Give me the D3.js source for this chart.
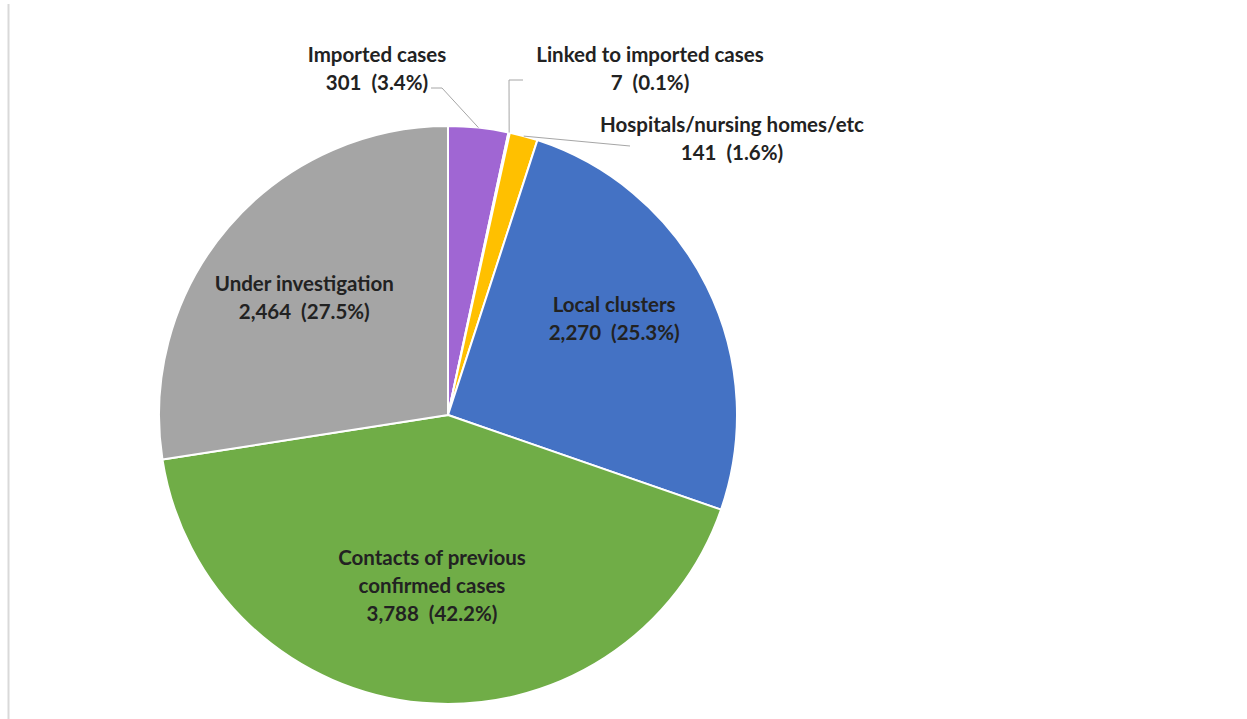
<!DOCTYPE html>
<html>
<head>
<meta charset="utf-8">
<script src="https://cdn.jsdelivr.net/npm/d3@7"></script>
<style>
  html, body { margin: 0; padding: 0; background: #fff; }
  svg { display: block; }
  text { font-family: Lato, "Open Sans", sans-serif; font-weight: bold; fill: #222; }
</style>
</head>
<body>
<svg id="chart" width="1247" height="719"></svg>
<script>
// data
const categories = ["Imported cases", "Linked to imported cases", "Hospitals/nursing homes/etc",
                    "Local clusters", "Contacts of previous confirmed cases", "Under investigation"];
const values = [301, 7, 141, 2270, 3788, 2464];
const percents = ["3.4%", "0.1%", "1.6%", "25.3%", "42.2%", "27.5%"];
const labelLines = [
    ["Imported cases"],
    ["Linked to imported cases"],
    ["Hospitals/nursing homes/etc"],
    ["Local clusters"],
    ["Contacts of previous", "confirmed cases"],
    ["Under investigation"]
];
const colors = ["#a066d3", "#5b9bd5", "#ffc000", "#4472c4", "#70ad47", "#a5a5a5"];

// layout
const cx = 448, cy = 415, radius = 289, lineH = 28, fontSize = 20.5;
// outside label spots (Excel style, hand placed), with elbow of leader
const outside = {
    0: {x: 377, y: 62, elbow: [[431, 88], [442, 88]]},
    1: {x: 650, y: 62, elbow: [[523, 80], [509, 80]]},
    2: {x: 732, y: 132, elbow: [[630, 146]]}
};
// small nudges of the inside labels
const nudge = {3: [5, -15], 4: [0, -7], 5: [-7, 1]};

const svg = d3.select("#chart");

// left frame line
svg.append("line")
    .attr("x1", 8.5).attr("x2", 8.5)
    .attr("y1", 4).attr("y2", 719)
    .attr("stroke", "#d9d9d9").attr("stroke-width", 2);

const pie = d3.pie().sort(null).value(d => d);
const arcs = pie(values);
const arc = d3.arc().innerRadius(0).outerRadius(radius);
const labelArc = d3.arc().innerRadius(180).outerRadius(180);
const edgeArc = d3.arc().innerRadius(radius).outerRadius(radius);

const g = svg.append("g").attr("transform", "translate(" + cx + "," + cy + ")");

g.selectAll("path.slice")
    .data(arcs)
    .enter().append("path")
    .attr("class", "slice")
    .attr("d", arc)
    .attr("fill", (d, i) => colors[i])
    .attr("stroke", "#fff")
    .attr("stroke-width", 2)
    .attr("stroke-linejoin", "round");

const fmt = d3.format(",");

arcs.forEach((d, i) => {
    const lines = labelLines[i].concat([fmt(values[i]) + "  (" + percents[i] + ")"]);
    if (outside[i]) {
        const o = outside[i];
        const p = edgeArc.centroid(d);
        const pts = o.elbow.map(e => [e[0] - cx, e[1] - cy]).concat([p]);
        g.append("path")
            .attr("d", d3.line()(pts))
            .attr("fill", "none")
            .attr("stroke", "#a6a6a6")
            .attr("stroke-width", 1);
        lines.forEach((t, k) => {
            svg.append("text")
                .attr("x", o.x)
                .attr("y", o.y + k * lineH)
                .attr("text-anchor", "middle")
                .attr("font-size", fontSize)
                .attr("xml:space", "preserve")
                .text(t);
        });
    } else {
        const c = labelArc.centroid(d);
        const n = nudge[i] || [0, 0];
        const top = c[1] - (lines.length - 1) * lineH / 2 + 6 + n[1];
        lines.forEach((t, k) => {
            g.append("text")
                .attr("x", c[0] + n[0])
                .attr("y", top + k * lineH)
                .attr("text-anchor", "middle")
                .attr("font-size", fontSize)
                .attr("xml:space", "preserve")
                .text(t);
        });
    }
});
</script>
</body>
</html>
